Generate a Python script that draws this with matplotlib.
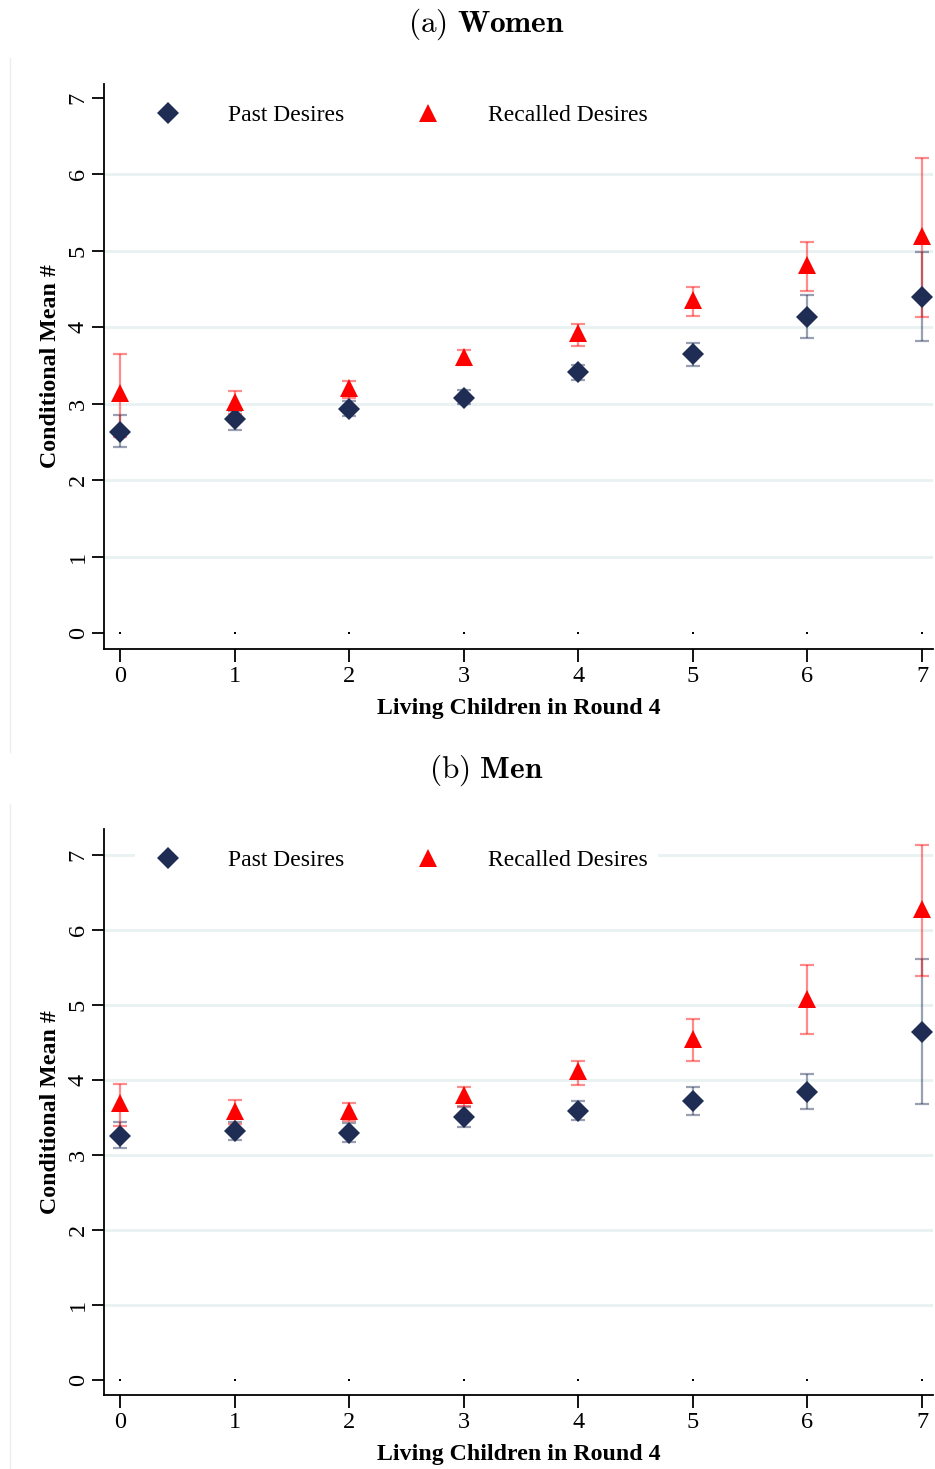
import matplotlib
matplotlib.use("Agg")
import matplotlib.pyplot as plt
from matplotlib.lines import Line2D
import numpy as np

plt.rcParams['font.family'] = ['Liberation Serif', 'DejaVu Serif']
plt.rcParams['mathtext.fontset'] = 'cm'

# ---------------- data ----------------
children = [0, 1, 2, 3, 4, 5, 6, 7]
x_ticklabels = ["0", "1", "2", "3", "4", "5", "6", "7"]
y_ticks = [0, 1, 2, 3, 4, 5, 6, 7]
zero_marks = [0, 0, 0, 0, 0, 0, 0, 0]

women_past = [2.63, 2.80, 2.93, 3.08, 3.41, 3.65, 4.14, 4.40]
women_past_lo = [2.43, 2.66, 2.84, 3.00, 3.31, 3.49, 3.86, 3.82]
women_past_hi = [2.85, 2.90, 3.03, 3.18, 3.51, 3.80, 4.42, 4.99]
women_rec = [3.14, 3.02, 3.20, 3.61, 3.92, 4.36, 4.81, 5.19]
women_rec_lo = [2.56, 2.87, 3.07, 3.51, 3.76, 4.15, 4.48, 4.13]
women_rec_hi = [3.65, 3.17, 3.30, 3.70, 4.04, 4.53, 5.11, 6.22]

men_past = [3.25, 3.32, 3.30, 3.51, 3.59, 3.72, 3.84, 4.64]
men_past_lo = [3.09, 3.20, 3.17, 3.38, 3.47, 3.54, 3.61, 3.68]
men_past_hi = [3.44, 3.44, 3.43, 3.64, 3.72, 3.91, 4.08, 5.62]
men_rec = [3.69, 3.59, 3.59, 3.80, 4.12, 4.55, 5.08, 6.28]
men_rec_lo = [3.39, 3.41, 3.46, 3.65, 3.93, 4.26, 4.61, 5.39]
men_rec_hi = [3.95, 3.73, 3.69, 3.91, 4.26, 4.81, 5.53, 7.14]

series_labels = ["Past Desires", "Recalled Desires"]
panel_titles = [r"$\mathrm{(a)}\ \mathbf{Women}$", r"$\mathrm{(b)}\ \mathbf{Men}$"]
x_label = "Living Children in Round 4"
y_label = "Conditional Mean #"

NAVY = "#1f2d54"
RED = "#ff0000"
GRID = "#e9f1f3"

W, H = 935, 1469
fig = plt.figure(figsize=(W / 100, H / 100), dpi=100)


def fx(px):
    return px / W


def fy(py):
    return 1 - py / H


def panel(top_px, bottom_px, ylim, past, plo, phi, rec, rlo, rhi, grid_levels, title, title_y):
    left_px, right_px = 104, 933
    ax = fig.add_axes([fx(left_px), fy(bottom_px), (right_px - left_px) / W,
                       (bottom_px - top_px) / H])
    ax.set_xlim(-0.14, 7.096)
    ax.set_ylim(*ylim)
    for g in grid_levels:
        ax.axhline(g, color=GRID, lw=2.0, zorder=0)

    past = np.array(past); rec = np.array(rec)
    perr = [past - np.array(plo), np.array(phi) - past]
    rerr = [rec - np.array(rlo), np.array(rhi) - rec]
    ax.errorbar(children, past, yerr=perr, fmt='none', ecolor=NAVY, alpha=0.45,
                elinewidth=1.6, capsize=5, capthick=1.6, zorder=2)
    ax.errorbar(children, rec, yerr=rerr, fmt='none', ecolor=RED, alpha=0.45,
                elinewidth=1.6, capsize=5, capthick=1.6, zorder=2)
    ax.plot(children, past, linestyle='none', marker='D', markersize=11.5,
            color=NAVY, markeredgewidth=0, zorder=3, label=series_labels[0])
    ax.plot(children, rec, linestyle='none', marker='^', markersize=12.5,
            color=RED, markeredgewidth=0, zorder=4, label=series_labels[1])
    ax.plot(children, zero_marks, linestyle='none', marker='s', markersize=1.6,
            color='black', markeredgewidth=0, zorder=3)

    for s in ['top', 'right']:
        ax.spines[s].set_visible(False)
    for s in ['left', 'bottom']:
        ax.spines[s].set_linewidth(1.3)
    ax.set_xticks(children)
    ax.set_xticklabels(x_ticklabels)
    ax.set_yticks(y_ticks)
    ax.set_yticklabels([str(v) for v in y_ticks], rotation=90, va='center')
    ax.tick_params(axis='x', length=9, width=1.3, labelsize=17.5, pad=3)
    ax.tick_params(axis='y', length=9, width=1.3, labelsize=17.5, pad=2)
    ax.set_xlabel(x_label, fontsize=17.2, fontweight='bold', labelpad=8)
    ax.set_ylabel(y_label, fontsize=17.2, fontweight='bold', labelpad=5)

    leg = ax.legend(loc='center left', bbox_to_anchor=(0.0374, 0.944), ncol=2,
                    frameon=True, fontsize=17, handlelength=2.0, handletextpad=1.54,
                    columnspacing=2.56, borderpad=0.4, borderaxespad=0,
                    numpoints=1)
    leg.get_frame().set_facecolor('white')
    leg.get_frame().set_edgecolor('none')
    leg.get_frame().set_alpha(1.0)
    leg.set_zorder(5)

    fig.text(fx(486), fy(title_y), title, ha='center', va='center', fontsize=22.5)
    return ax


panel(84, 649, (-0.209, 7.183), women_past, women_past_lo, women_past_hi,
      women_rec, women_rec_lo, women_rec_hi, [1, 2, 3, 4, 5, 6], panel_titles[0], 24)
panel(829, 1395, (-0.2, 7.347), men_past, men_past_lo, men_past_hi,
      men_rec, men_rec_lo, men_rec_hi, [1, 2, 3, 4, 5, 6, 7], panel_titles[1], 770)

# faint graph-region borders
fig.add_artist(Line2D([fx(10), fx(10)], [fy(58), fy(752)], color='#eeeeee', lw=1.0))
fig.add_artist(Line2D([fx(10), fx(10)], [fy(804), fy(1469)], color='#eeeeee', lw=1.0))

fig.savefig("out.png", dpi=100, facecolor='white')
